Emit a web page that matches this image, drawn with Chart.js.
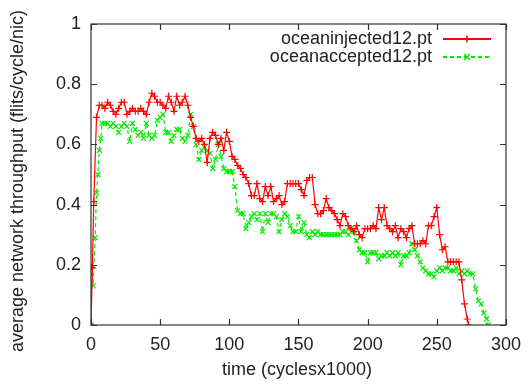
<!DOCTYPE html>
<html>
<head>
<meta charset="utf-8">
<script src="https://cdn.jsdelivr.net/npm/chart.js@4.4.0/dist/chart.umd.min.js"></script>
<style>
  html, body { margin: 0; padding: 0; background: #fff; }
  canvas { display: block; }
</style>
</head>
<body>
<canvas id="tputChart" width="530" height="385"></canvas>
<script>
const injectedTime = [0, 1, 2, 4, 6, 8, 10, 12, 14, 16, 18, 20, 22, 24, 26, 28, 30, 32, 34, 36, 38, 40, 42, 44, 46, 48, 50,
  52, 54, 56, 58, 60, 62, 64, 66, 68, 70, 72, 74, 76, 78, 80, 82, 84, 86, 88, 90, 92, 94, 96, 98, 100,
  102, 104, 106, 108, 110, 112, 114, 116, 118, 120, 122, 124, 126, 128, 130, 132, 134, 136, 138, 140, 142, 144, 146, 148, 150,
  152, 154, 156, 158, 160, 162, 164, 166, 168, 170, 172, 174, 176, 178, 180, 182, 184, 186, 188, 190, 192, 194, 196, 198, 200,
  202, 204, 206, 208, 210, 212, 214, 216, 218, 220, 222, 224, 226, 228, 230, 232, 234, 236, 238, 240, 242, 244, 246, 248, 250,
  252, 254, 256, 258, 260, 262, 264, 266, 268, 270, 272, 273];
const injected = [0, 0.19, 0.41, 0.69, 0.73, 0.73, 0.72, 0.74, 0.73, 0.71, 0.70, 0.72, 0.74, 0.74, 0.70, 0.71, 0.72, 0.71, 0.71, 0.72, 0.71, 0.70, 0.74, 0.77, 0.76, 0.74, 0.74,
  0.73, 0.72, 0.76, 0.74, 0.71, 0.76, 0.73, 0.74, 0.76, 0.73, 0.69, 0.66, 0.62, 0.61, 0.62, 0.60, 0.54, 0.62, 0.64, 0.63, 0.60, 0.62, 0.58, 0.64, 0.61,
  0.56, 0.55, 0.53, 0.52, 0.50, 0.49, 0.47, 0.43, 0.43, 0.47, 0.42, 0.41, 0.46, 0.43, 0.46, 0.41, 0.42, 0.43, 0.40, 0.41, 0.47, 0.47, 0.47, 0.47, 0.47,
  0.45, 0.43, 0.48, 0.49, 0.49, 0.40, 0.37, 0.37, 0.38, 0.42, 0.39, 0.38, 0.37, 0.35, 0.33, 0.37, 0.36, 0.33, 0.32, 0.31, 0.33, 0.30, 0.29, 0.32, 0.32,
  0.32, 0.33, 0.32, 0.39, 0.35, 0.39, 0.33, 0.32, 0.31, 0.33, 0.29, 0.32, 0.31, 0.29, 0.32, 0.33, 0.27, 0.27, 0.27, 0.28, 0.27, 0.33, 0.33, 0.36, 0.39,
  0.30, 0.25, 0.26, 0.21, 0.21, 0.21, 0.21, 0.21, 0.15, 0.07, 0.02, 0];

const acceptedTime = [0, 0.5, 1.5, 3, 4, 5, 6, 7, 8, 10, 12, 14, 16, 18, 20, 22, 24, 26, 28, 30, 32, 34, 36, 38, 40, 42, 44, 46, 48, 50,
  52, 54, 56, 58, 60, 62, 64, 66, 68, 70, 72, 74, 76, 78, 80, 82, 84, 86, 88, 90, 92, 94, 96, 98, 100,
  102, 104, 106, 108, 110, 112, 114, 116, 118, 120, 122, 124, 126, 128, 130, 132, 134, 136, 138, 140, 142, 144, 146, 148, 150,
  152, 154, 156, 158, 160, 162, 164, 166, 168, 170, 172, 174, 176, 178, 180, 182, 184, 186, 188, 190, 192, 194, 196, 198, 200,
  202, 204, 206, 208, 210, 212, 214, 216, 218, 220, 222, 224, 226, 228, 230, 232, 234, 236, 238, 240, 242, 244, 246, 248, 250,
  252, 254, 256, 258, 260, 262, 264, 266, 268, 270, 272, 274, 276, 278, 280, 282, 284, 286, 287];
const accepted = [0, 0.20, 0.13, 0.29, 0.44, 0.50, 0.58, 0.62, 0.67, 0.67, 0.67, 0.66, 0.67, 0.66, 0.64, 0.66, 0.67, 0.66, 0.61, 0.67, 0.65, 0.63, 0.64, 0.62, 0.67, 0.63, 0.62, 0.63, 0.68, 0.69,
  0.70, 0.64, 0.64, 0.61, 0.63, 0.65, 0.65, 0.62, 0.61, 0.63, 0.70, 0.66, 0.60, 0.55, 0.58, 0.59, 0.58, 0.57, 0.52, 0.55, 0.60, 0.56, 0.52, 0.51, 0.51,
  0.51, 0.46, 0.38, 0.37, 0.37, 0.32, 0.34, 0.36, 0.37, 0.35, 0.37, 0.31, 0.37, 0.34, 0.37, 0.37, 0.36, 0.31, 0.35, 0.37, 0.36, 0.33, 0.31, 0.31, 0.36,
  0.31, 0.34, 0.30, 0.29, 0.31, 0.30, 0.31, 0.30, 0.30, 0.30, 0.30, 0.30, 0.30, 0.30, 0.30, 0.31, 0.31, 0.30, 0.32, 0.31, 0.28, 0.25, 0.24, 0.24, 0.21,
  0.24, 0.24, 0.24, 0.22, 0.23, 0.23, 0.24, 0.23, 0.24, 0.23, 0.24, 0.20, 0.23, 0.23, 0.24, 0.27, 0.25, 0.23, 0.21, 0.19, 0.18, 0.17, 0.17, 0.16, 0.18,
  0.19, 0.18, 0.19, 0.19, 0.18, 0.18, 0.19, 0.17, 0.18, 0.17, 0.18, 0.17, 0.17, 0.12, 0.08, 0.07, 0.04, 0.02, 0];

const seriesNames = ['oceaninjected12.pt', 'oceanaccepted12.pt'];
const seriesColors = ['rgb(255, 0, 0)', 'rgb(0, 235, 0)'];
const xTitle = 'time (cyclesx1000)';
const yTitle = 'average network throughput (flits/cycle/nic)';

const FONT = '"Liberation Sans", Arial, sans-serif';
const INK = '#222';

function toPoints(xs, ys) {
  return xs.map((x, i) => ({ x: x, y: ys[i] }));
}

// gnuplot-style frame: border box, inward ticks on all sides, axis titles, key
const gnuplotFrame = {
  id: 'gnuplotFrame',
  afterDraw(chart) {
    const g = chart.ctx;
    const a = chart.chartArea;
    const xs = chart.scales.x;
    const ys = chart.scales.y;
    g.save();
    g.strokeStyle = '#333';
    g.lineWidth = 1.2;
    g.strokeRect(a.left, a.top, a.right - a.left, a.bottom - a.top);

    const tl = 6;
    g.beginPath();
    xs.ticks.forEach(t => {
      const px = Math.round(xs.getPixelForValue(t.value)) + 0.5;
      g.moveTo(px, a.bottom); g.lineTo(px, a.bottom - tl);
      g.moveTo(px, a.top); g.lineTo(px, a.top + tl);
    });
    ys.ticks.forEach(t => {
      const py = Math.round(ys.getPixelForValue(t.value)) + 0.5;
      g.moveTo(a.left, py); g.lineTo(a.left + tl, py);
      g.moveTo(a.right, py); g.lineTo(a.right - tl, py);
    });
    g.stroke();
    g.restore();

    // axis titles
    g.save();
    g.fillStyle = INK;
    g.font = '18px ' + FONT;
    g.textAlign = 'center';
    g.textBaseline = 'middle';
    g.fillText(xTitle, 297, 370);
    g.translate(18, 181);
    g.rotate(-Math.PI / 2);
    g.fillText(yTitle, 0, 0);
    g.restore();

    // key: text on the left, sample line with marker on the right
    const rows = [39, 57];
    seriesNames.forEach((name, i) => {
      const y = rows[i];
      g.save();
      g.fillStyle = INK;
      g.font = '18px ' + FONT;
      g.textAlign = 'right';
      g.textBaseline = 'middle';
      g.fillText(name, 432, y);
      g.strokeStyle = seriesColors[i];
      g.lineWidth = 1.8;
      g.setLineDash(i === 1 ? [4, 3] : []);
      g.beginPath();
      g.moveTo(443, y); g.lineTo(491, y);
      g.stroke();
      g.setLineDash([]);
      g.lineWidth = 1.5;
      g.beginPath();
      if (i === 0) {
        g.moveTo(463.5, y); g.lineTo(470.5, y);
        g.moveTo(467, y - 3.5); g.lineTo(467, y + 3.5);
      } else {
        g.moveTo(464, y - 3); g.lineTo(470, y + 3);
        g.moveTo(464, y + 3); g.lineTo(470, y - 3);
      }
      g.stroke();
      g.restore();
    });
  }
};

const ctx = document.getElementById('tputChart').getContext('2d');
new Chart(ctx, {
  type: 'line',
  data: {
    datasets: [
      {
        label: seriesNames[0],
        data: toPoints(injectedTime, injected),
        borderColor: seriesColors[0],
        backgroundColor: seriesColors[0],
        borderWidth: 1.2,
        pointStyle: 'cross',
        pointRadius: 3.5,
        pointBorderWidth: 1.2,
        pointHoverRadius: 0,
        tension: 0
      },
      {
        label: seriesNames[1],
        data: toPoints(acceptedTime, accepted),
        borderColor: seriesColors[1],
        backgroundColor: seriesColors[1],
        borderWidth: 1.2,
        borderDash: [4, 3],
        pointStyle: 'crossRot',
        pointRadius: 3.5,
        pointBorderWidth: 1.2,
        pointHoverRadius: 0,
        tension: 0
      }
    ]
  },
  options: {
    responsive: false,
    animation: false,
    devicePixelRatio: 1,
    layout: { padding: { left: 0, right: 17, top: 24, bottom: 0 } },
    plugins: {
      legend: { display: false },
      tooltip: { enabled: false }
    },
    scales: {
      x: {
        type: 'linear',
        min: 0,
        max: 300,
        afterFit: s => { s.height = 60; },
        grid: { drawOnChartArea: false, drawTicks: false },
        border: { display: false },
        ticks: { stepSize: 50, padding: 9, color: INK, font: { size: 18, family: FONT } }
      },
      y: {
        min: 0,
        max: 1,
        afterFit: s => { s.width = 91; },
        grid: { drawOnChartArea: false, drawTicks: false },
        border: { display: false },
        ticks: {
          stepSize: 0.2,
          padding: 10,
          color: INK,
          font: { size: 18, family: FONT },
          callback: v => String(Math.round(v * 10) / 10)
        }
      }
    }
  },
  plugins: [gnuplotFrame]
});
</script>
</body>
</html>
